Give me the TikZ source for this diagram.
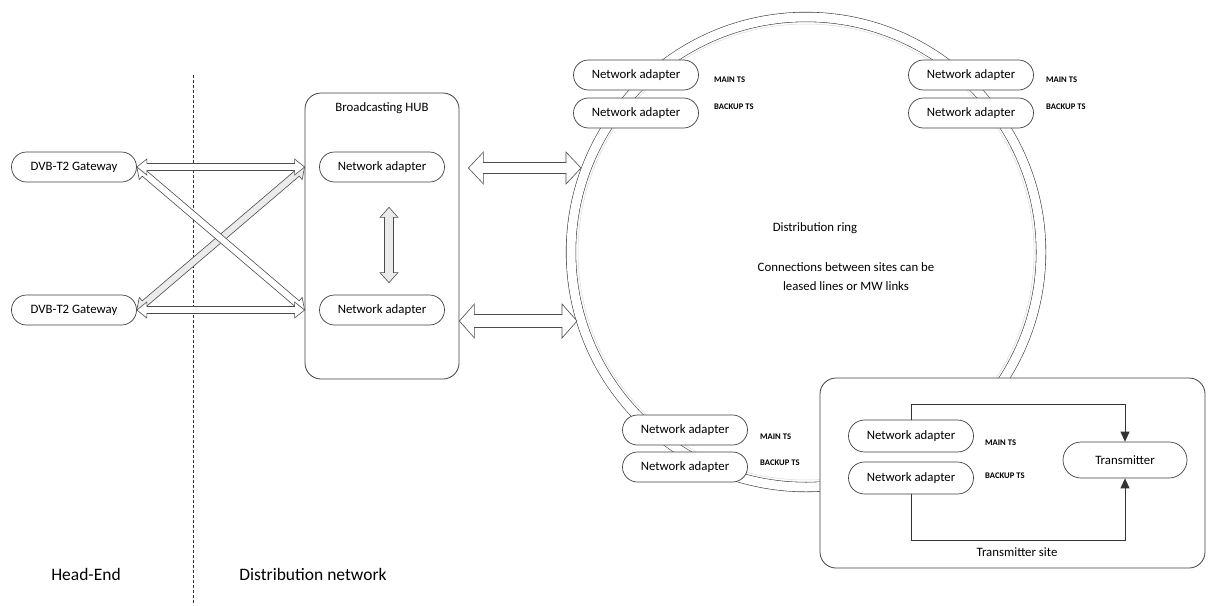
\documentclass[tikz,border=0pt]{standalone}
\usepackage{fontspec}
\setmainfont{Carlito}
\usetikzlibrary{shapes.misc,arrows.meta,calc}

\tikzset{
  pill/.style={rounded rectangle, draw=black!75, line width=0.7pt, fill=white,
    minimum width=125pt, minimum height=30pt, inner sep=0pt,
    font=\fontsize{12.8}{15}\selectfont},
  tslabel/.style={anchor=west, inner sep=0pt, font=\bfseries\fontsize{8.6}{10}\selectfont},
  bigtext/.style={inner sep=0pt, font=\fontsize{17.5}{21}\selectfont},
  plaintext/.style={inner sep=0pt, font=\fontsize{12.8}{19}\selectfont},
  framebox/.style={draw=black!75, line width=0.8pt, fill=white, rounded corners=16pt},
  blockarrow/.style={draw=black!70, line width=0.6pt, fill=white, line join=miter},
  feed/.style={draw=black!80, line width=0.9pt, -{Triangle[length=10pt,width=9pt]}},
  ringline/.style={draw=black!75, line width=0.6pt, double=white, double distance=9pt}
}

% double-headed block arrow: [style]{from}{to}{shaft half width}{head half width}{head length}
\newcommand\dblblock[6][]{%
  \path[blockarrow,#1] let \p1=(#2), \p2=(#3),
      \n1={atan2(\y2-\y1,\x2-\x1)}, \n2={veclen(\x2-\x1,\y2-\y1)} in
    [shift={(\p1)}, rotate=\n1]
    (0,0) -- (#6,#5) -- (#6,#4) -- (\n2-#6,#4) -- (\n2-#6,#5) -- (\n2,0)
    -- (\n2-#6,-#5) -- (\n2-#6,-#4) -- (#6,-#4) -- (#6,-#5) -- cycle;}

\begin{document}
\begin{tikzpicture}[x=1pt,y=1pt]
\useasboundingbox (0,0) rectangle (1209,-605);

% distribution ring
\coordinate (rc) at (806,-252);
\draw[ringline] (rc) circle (235);
\draw[black!15, line width=0.5pt] (rc) circle (228);

% transmitter site frame (covers the ring)
\node[framebox, minimum width=385pt, minimum height=190pt] (site) at (1012.5,-473) {};
\node[plaintext] (sitel) at (1017,-552) {Transmitter site};

% head-end / distribution split
\draw[black!80, line width=0.5pt, dash pattern=on 3pt off 2pt] (193,-75) -- (193,-605);
\node[bigtext] (he) at (86,-574) {Head-End};
\node[bigtext] (dn) at (313,-574) {Distribution network};

% gateways
\node[pill] (gw1) at (74,-167) {DVB-T2 Gateway};
\node[pill] (gw2) at (74,-310) {DVB-T2 Gateway};

% broadcasting hub
\node[framebox, minimum width=154pt, minimum height=286pt] (hub) at (382,-236) {};
\node[plaintext] (hubl) at (382,-108) {Broadcasting HUB};
\node[pill] (hna1) at (382,-167) {Network adapter};
\node[pill] (hna2) at (382,-310) {Network adapter};

% ring text
\node[plaintext] (ringt) at (815,-228) {Distribution ring};
\node[plaintext, align=center] (ringn) at (846,-277) {Connections between sites can be\\leased lines or MW links};

% sites on the ring
\node[pill] (na1) at (636,-75) {Network adapter};
\node[pill] (na2) at (636,-113) {Network adapter};
\node[tslabel] (l1) at (714,-80) {MAIN TS};
\node[tslabel] (l2) at (714,-107) {BACKUP TS};

\node[pill] (na3) at (971,-75) {Network adapter};
\node[pill] (na4) at (971,-113) {Network adapter};
\node[tslabel] (l3) at (1046,-80) {MAIN TS};
\node[tslabel] (l4) at (1046,-107) {BACKUP TS};

\node[pill] (na5) at (685,-430) {Network adapter};
\node[pill] (na6) at (685,-467) {Network adapter};
\node[tslabel] (l5) at (760,-437) {MAIN TS};
\node[tslabel] (l6) at (760,-463) {BACKUP TS};

% transmitter site contents
\node[pill, minimum height=32pt] (tna1) at (911,-436) {Network adapter};
\node[pill, minimum height=32pt] (tna2) at (911,-478) {Network adapter};
\node[tslabel] (l7) at (985,-443) {MAIN TS};
\node[tslabel] (l8) at (985,-476) {BACKUP TS};
\node[pill, minimum width=124pt, minimum height=36pt] (tx) at (1125,-460) {Transmitter};
\draw[feed] (tna1.north) -- ++(0,15) -| (tx.north);
\draw[feed] (tna2.south) -- ++(0,-46) -| (tx.south);

% gateway to hub links
\coordinate (hubin1) at (hub.west |- hna1);
\coordinate (hubin2) at (hub.west |- hna2);
\dblblock[fill=black!8]{gw2.east}{hubin1}{3.5}{8}{10}
\dblblock{gw1.east}{hubin2}{3.5}{8}{10}
\dblblock{gw1.east}{hubin1}{3.5}{8}{10}
\dblblock{gw2.east}{hubin2}{3.5}{8}{10}

% inside the hub
\dblblock[fill=black!8]{$(hna1.south)+(7,-25)$}{$(hna2.north)+(7,12)$}{4.5}{9}{10}

% hub to ring
\coordinate (ra) at (581,-168);
\coordinate (rb) at (577,-321);
\dblblock{$(hub.east |- ra)+(9,0)$}{ra}{5.5}{16}{15}
\dblblock{hub.east |- rb}{rb}{6.5}{17}{15}
\end{tikzpicture}
\end{document}
